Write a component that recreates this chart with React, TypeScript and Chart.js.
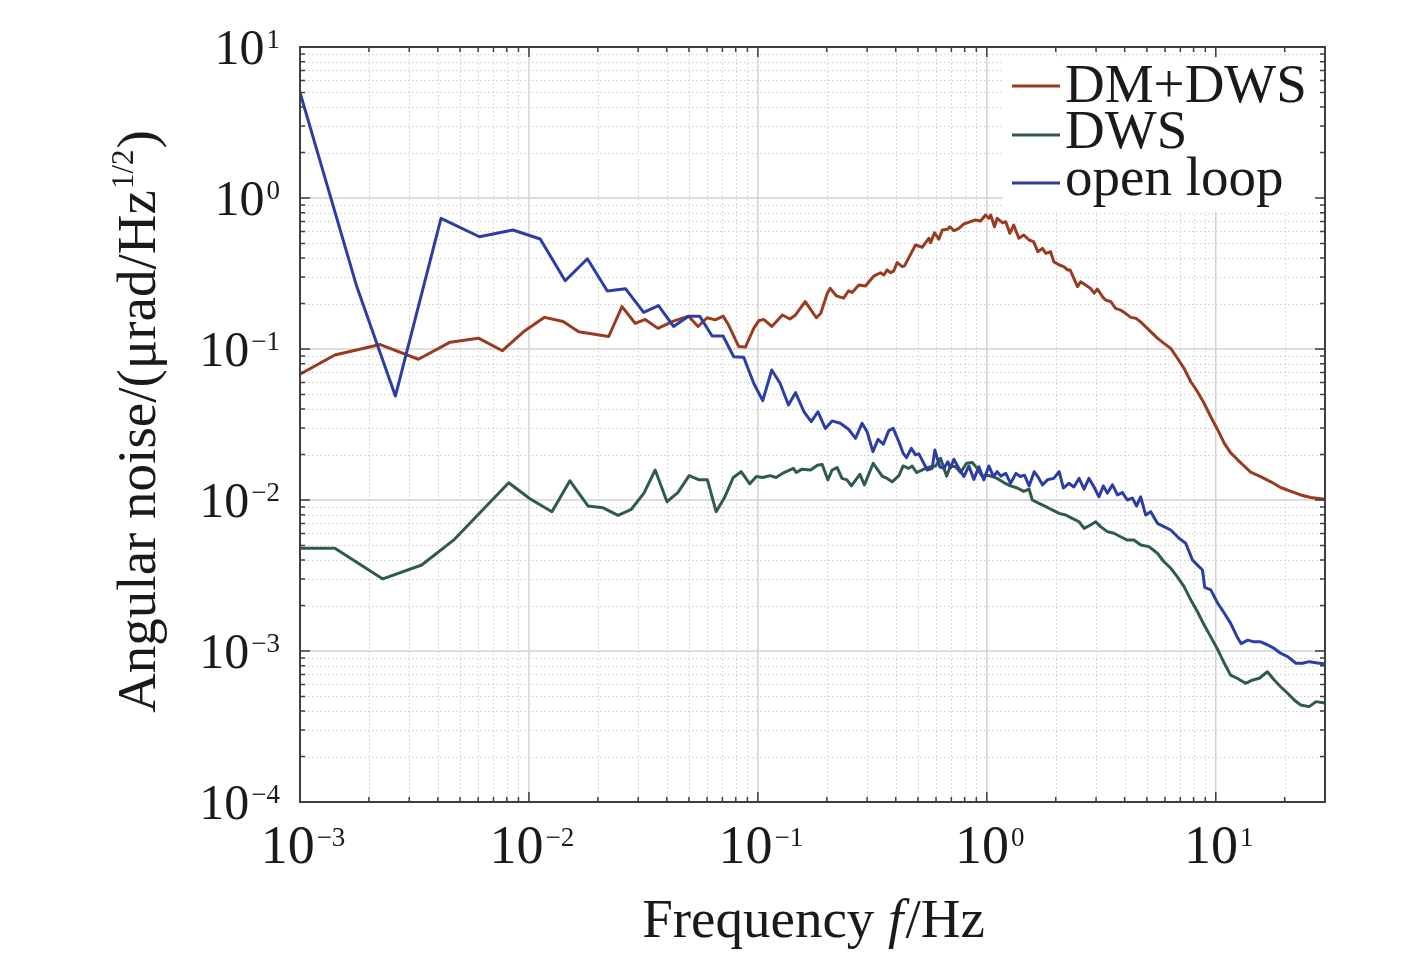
import React, { useEffect, useRef } from "react";
import { Chart, registerables } from "chart.js";

Chart.register(...registerables);

// ---------------- data ----------------
const dmFreq = [
  1e-3, 1.42e-3, 2.24e-3, 3.29e-3, 4.53e-3, 6.02e-3, 7.66e-3, 9.46e-3, 1.17e-2, 1.41e-2,
  1.65e-2, 2.23e-2, 2.55e-2, 2.91e-2, 3.22e-2, 3.66e-2, 4.28e-2, 4.98e-2, 5.48e-2, 6.0e-2,
  6.52e-2, 7.05e-2, 7.45e-2, 8.24e-2, 8.82e-2, 9.59e-2, 0.101, 0.106, 0.115, 0.128,
  0.138, 0.146, 0.161, 0.18, 0.188, 0.201, 0.207, 0.22, 0.237, 0.249,
  0.258, 0.276, 0.295, 0.321, 0.343, 0.355, 0.367, 0.38, 0.392, 0.406,
  0.427, 0.437, 0.488, 0.522, 0.558, 0.568, 0.591, 0.617, 0.639, 0.672,
  0.69, 0.718, 0.755, 0.794, 0.849, 0.893, 0.939, 0.987, 1.02, 1.04,
  1.08, 1.11, 1.17, 1.21, 1.26, 1.31, 1.38, 1.45, 1.53, 1.6,
  1.67, 1.75, 1.81, 1.9, 1.96, 2.07, 2.17, 2.25, 2.31, 2.49,
  2.57, 2.7, 2.84, 2.94, 3.04, 3.2, 3.3, 3.48, 3.65, 3.84,
  4.04, 4.25, 4.47, 4.7, 4.86, 5.29, 5.56, 5.94, 6.36, 6.8,
  7.27, 7.78, 8.32, 8.89, 9.51, 10.2, 10.9, 11.6, 12.4, 13.3,
  14.2, 15.7, 17.4, 19.2, 21.3, 23.5, 26.0, 30,
];
const dmPsd = [
  0.068, 0.0913, 0.107, 0.0855, 0.111, 0.118, 0.0974, 0.13, 0.162, 0.152,
  0.13, 0.121, 0.191, 0.148, 0.157, 0.137, 0.153, 0.165, 0.141, 0.161,
  0.156, 0.165, 0.144, 0.104, 0.103, 0.137, 0.154, 0.157, 0.141, 0.168,
  0.158, 0.168, 0.206, 0.161, 0.172, 0.234, 0.252, 0.225, 0.217, 0.243,
  0.237, 0.265, 0.261, 0.304, 0.32, 0.309, 0.334, 0.32, 0.329, 0.373,
  0.351, 0.355, 0.488, 0.472, 0.541, 0.506, 0.589, 0.533, 0.614, 0.62,
  0.645, 0.607, 0.63, 0.673, 0.697, 0.715, 0.704, 0.772, 0.734, 0.772,
  0.645, 0.734, 0.686, 0.697, 0.584, 0.662, 0.541, 0.569, 0.527, 0.514,
  0.441, 0.464, 0.43, 0.441, 0.379, 0.36, 0.351, 0.334, 0.334, 0.259,
  0.279, 0.265, 0.252, 0.234, 0.249, 0.222, 0.211, 0.206, 0.186, 0.181,
  0.172, 0.162, 0.16, 0.151, 0.144, 0.127, 0.118, 0.109, 0.101, 0.0868,
  0.0745, 0.0607, 0.0522, 0.0437, 0.0356, 0.0291, 0.0237, 0.0206, 0.0186, 0.0168,
  0.0153, 0.0143, 0.0132, 0.0121, 0.0114, 0.0108, 0.0104, 0.0101,
];

const dwsFreq = [
  1e-3, 1.42e-3, 2.3e-3, 3.4e-3, 4.73e-3, 8.16e-3, 1.01e-2, 1.26e-2, 1.51e-2, 1.81e-2,
  2.1e-2, 2.45e-2, 2.8e-2, 3.18e-2, 3.56e-2, 4.01e-2, 4.47e-2, 5.01e-2, 5.54e-2, 6.02e-2,
  6.57e-2, 7.13e-2, 7.81e-2, 8.45e-2, 9.22e-2, 9.85e-2, 0.105, 0.113, 0.12, 0.13,
  0.143, 0.147, 0.156, 0.17, 0.182, 0.191, 0.202, 0.211, 0.222, 0.233,
  0.245, 0.256, 0.279, 0.292, 0.319, 0.349, 0.367, 0.386, 0.413, 0.431,
  0.456, 0.472, 0.493, 0.531, 0.568, 0.597, 0.628, 0.667, 0.694, 0.73,
  0.768, 0.815, 0.864, 0.908, 0.955, 1.0, 1.06, 1.11, 1.19, 1.27,
  1.36, 1.45, 1.53, 1.58, 1.69, 1.81, 1.93, 2.07, 2.21, 2.36,
  2.53, 2.66, 2.84, 2.99, 3.14, 3.36, 3.59, 3.84, 4.11, 4.39,
  4.7, 5.11, 5.56, 5.94, 6.36, 6.8, 7.27, 7.78, 8.32, 8.89,
  9.51, 10.2, 10.9, 11.6, 12.4, 13.5, 14.5, 15.5, 16.8, 18.0,
  19.2, 20.6, 22.0, 23.5, 25.6, 27.4, 30,
];
const dwsPsd = [
  4.79e-3, 4.79e-3, 3.0e-3, 3.71e-3, 5.49e-3, 1.3e-2, 1.02e-2, 8.37e-3, 1.34e-2, 9.13e-3,
  8.89e-3, 7.92e-3, 8.68e-3, 1.11e-2, 1.58e-2, 9.74e-3, 1.12e-2, 1.45e-2, 1.36e-2, 1.36e-2,
  8.37e-3, 1.03e-2, 1.41e-2, 1.54e-2, 1.28e-2, 1.43e-2, 1.41e-2, 1.45e-2, 1.41e-2, 1.52e-2,
  1.62e-2, 1.52e-2, 1.6e-2, 1.58e-2, 1.7e-2, 1.72e-2, 1.36e-2, 1.58e-2, 1.64e-2, 1.39e-2,
  1.36e-2, 1.24e-2, 1.48e-2, 1.26e-2, 1.75e-2, 1.44e-2, 1.39e-2, 1.32e-2, 1.45e-2, 1.68e-2,
  1.62e-2, 1.68e-2, 1.52e-2, 1.6e-2, 1.66e-2, 1.68e-2, 1.89e-2, 1.44e-2, 1.68e-2, 1.66e-2,
  1.52e-2, 1.75e-2, 1.77e-2, 1.62e-2, 1.43e-2, 1.46e-2, 1.43e-2, 1.39e-2, 1.3e-2, 1.24e-2,
  1.2e-2, 1.14e-2, 1.18e-2, 1.0e-2, 9.51e-3, 9.03e-3, 8.59e-3, 8.16e-3, 7.96e-3, 7.56e-3,
  7.18e-3, 6.49e-3, 6.83e-3, 7.18e-3, 6.66e-3, 6.17e-3, 6.02e-3, 5.71e-3, 5.43e-3, 5.43e-3,
  5.04e-3, 4.91e-3, 4.44e-3, 3.9e-3, 3.53e-3, 3.1e-3, 2.67e-3, 2.18e-3, 1.82e-3, 1.49e-3,
  1.24e-3, 1.02e-3, 8.29e-4, 6.93e-4, 6.6e-4, 6.11e-4, 6.43e-4, 6.6e-4, 7.29e-4, 6.43e-4,
  5.8e-4, 5.25e-4, 4.74e-4, 4.39e-4, 4.28e-4, 4.62e-4, 4.53e-4,
];

const olFreq = [
  1e-3, 1.77e-3, 2.61e-3, 4.13e-3, 6.08e-3, 8.51e-3, 1.12e-2, 1.44e-2, 1.8e-2, 2.2e-2,
  2.64e-2, 3.17e-2, 3.68e-2, 4.28e-2, 4.98e-2, 5.57e-2, 6.31e-2, 7.05e-2, 7.84e-2, 8.67e-2,
  9.59e-2, 0.105, 0.115, 0.125, 0.136, 0.146, 0.159, 0.171, 0.183, 0.197,
  0.211, 0.229, 0.249, 0.267, 0.285, 0.3, 0.318, 0.335, 0.353, 0.373,
  0.39, 0.413, 0.431, 0.446, 0.468, 0.488, 0.505, 0.549, 0.577, 0.593,
  0.623, 0.649, 0.676, 0.694, 0.718, 0.755, 0.794, 0.835, 0.878, 0.923,
  0.971, 1.02, 1.07, 1.11, 1.15, 1.21, 1.27, 1.34, 1.4, 1.46,
  1.53, 1.61, 1.67, 1.75, 1.84, 1.96, 2.07, 2.16, 2.28, 2.4,
  2.53, 2.66, 2.79, 2.94, 3.09, 3.23, 3.36, 3.54, 3.72, 3.91,
  4.11, 4.32, 4.51, 4.7, 4.94, 5.2, 5.56, 5.94, 6.36, 6.91,
  7.39, 7.91, 8.45, 8.75, 8.95, 9.51, 10.2, 10.9, 11.6, 12.4,
  12.9, 13.8, 14.7, 15.7, 16.8, 18.0, 19.2, 20.6, 22.4, 23.9,
  25.6, 27.4, 30,
];
const olPsd = [
  5.0, 0.259, 0.0488, 0.734, 0.554, 0.614, 0.535, 0.283, 0.396, 0.242,
  0.251, 0.175, 0.194, 0.141, 0.165, 0.165, 0.122, 0.122, 0.0889, 0.0881,
  0.0593, 0.0455, 0.0726, 0.0593, 0.0426, 0.0514, 0.0384, 0.033, 0.0384, 0.0298,
  0.0334, 0.0322, 0.0294, 0.0256, 0.0322, 0.0283, 0.0209, 0.0252, 0.0234, 0.0288,
  0.0298, 0.0243, 0.0204, 0.0191, 0.022, 0.0199, 0.0202, 0.0158, 0.0162, 0.0214,
  0.0166, 0.0162, 0.0179, 0.0163, 0.0186, 0.0162, 0.0143, 0.0168, 0.0137, 0.0166,
  0.0136, 0.0168, 0.0143, 0.0154, 0.0144, 0.015, 0.0129, 0.015, 0.0143, 0.0146,
  0.0124, 0.0154, 0.0143, 0.0126, 0.0136, 0.0139, 0.0154, 0.012, 0.0129, 0.0122,
  0.0139, 0.0118, 0.0139, 0.0122, 0.0105, 0.0124, 0.0111, 0.0126, 0.0108, 0.0112,
  0.01, 0.0103, 9.13e-3, 0.0105, 7.96e-3, 8.37e-3, 7.01e-3, 6.66e-3, 6.33e-3, 5.58e-3,
  5.17e-3, 4.01e-3, 3.62e-3, 3.44e-3, 2.64e-3, 2.54e-3, 2.07e-3, 1.78e-3, 1.53e-3, 1.24e-3,
  1.12e-3, 1.18e-3, 1.15e-3, 1.15e-3, 1.1e-3, 1.04e-3, 9.66e-4, 9.17e-4, 8.29e-4, 8.29e-4,
  8.5e-4, 8.37e-4, 8.2e-4,
];

const seriesLabels = ["DM+DWS", "DWS", "open loop"];
const seriesColors = ["#9a3a1f", "#2f5c46", "#2c3ea6"];

const xRange = [1e-3, 30];
const yRange = [1e-4, 10];
const xTickExps = [-3, -2, -1, 0, 1];
const yTickExps = [1, 0, -1, -2, -3, -4];

const xTitleParts = ["Frequency ", "f", "/Hz"];
const yTitleParts = ["Angular noise/(\u03bcrad/Hz", "1/2", ")"];

// ---------------- helpers ----------------
const SERIF = '"Liberation Serif", "Times New Roman", Times, serif';
const TEXT = "#1a1a1a";

function expLabel(e: number) {
  return e < 0 ? "\u2212" + String(-e) : String(e);
}

function logTicks(min: number, max: number) {
  const out: { v: number; major: boolean }[] = [];
  const e0 = Math.floor(Math.log10(min));
  const e1 = Math.ceil(Math.log10(max));
  for (let e = e0; e <= e1; e++) {
    for (let m = 1; m <= 9; m++) {
      const v = m * Math.pow(10, e);
      if (v >= min * 0.9999 && v <= max * 1.0001) out.push({ v, major: m === 1 });
    }
  }
  return out;
}

const decorPlugin = {
  id: "decor",
  beforeDatasetsDraw(chart: any) {
    const { ctx, chartArea: a, scales } = chart;
    const xs = scales.x, ys = scales.y;
    const xt = logTicks(xRange[0], xRange[1]);
    const yt = logTicks(yRange[0], yRange[1]);
    ctx.save();
    // minor dotted grid
    ctx.lineWidth = 1;
    ctx.strokeStyle = "#cfcfcf";
    ctx.setLineDash([1.5, 2.5]);
    ctx.beginPath();
    for (const t of xt) {
      if (t.major) continue;
      const p = Math.round(xs.getPixelForValue(t.v)) + 0.5;
      if (p <= a.left + 1 || p >= a.right - 1) continue;
      ctx.moveTo(p, a.top);
      ctx.lineTo(p, a.bottom);
    }
    for (const t of yt) {
      if (t.major) continue;
      const p = Math.round(ys.getPixelForValue(t.v)) + 0.5;
      if (p <= a.top + 1 || p >= a.bottom - 1) continue;
      ctx.moveTo(a.left, p);
      ctx.lineTo(a.right, p);
    }
    ctx.stroke();
    // major solid grid
    ctx.setLineDash([]);
    ctx.strokeStyle = "#d4d4d4";
    ctx.lineWidth = 1.5;
    ctx.beginPath();
    for (const t of xt) {
      if (!t.major) continue;
      const p = xs.getPixelForValue(t.v);
      if (p <= a.left + 1 || p >= a.right - 1) continue;
      ctx.moveTo(p, a.top);
      ctx.lineTo(p, a.bottom);
    }
    for (const t of yt) {
      if (!t.major) continue;
      const p = ys.getPixelForValue(t.v);
      if (p <= a.top + 1 || p >= a.bottom - 1) continue;
      ctx.moveTo(a.left, p);
      ctx.lineTo(a.right, p);
    }
    ctx.stroke();
    ctx.restore();
  },
  afterDatasetsDraw(chart: any) {
    const { ctx, chartArea: a, scales } = chart;
    const xs = scales.x, ys = scales.y;
    ctx.save();

    // legend box
    ctx.fillStyle = "#ffffff";
    ctx.fillRect(1003, 58, a.right - 3 - 1003, 212 - 58);
    const legendRows = [
      { lineY: 86, base: 102 },
      { lineY: 135, base: 148 },
      { lineY: 183, base: 195 },
    ];
    ctx.font = `55px ${SERIF}`;
    ctx.textBaseline = "alphabetic";
    ctx.textAlign = "left";
    legendRows.forEach((r, i) => {
      ctx.strokeStyle = seriesColors[i];
      ctx.lineWidth = 3;
      ctx.beginPath();
      ctx.moveTo(1012, r.lineY);
      ctx.lineTo(1060, r.lineY);
      ctx.stroke();
      ctx.fillStyle = TEXT;
      ctx.fillText(seriesLabels[i], 1065, r.base);
    });

    // frame
    ctx.strokeStyle = "#3f3f3f";
    ctx.lineWidth = 2;
    ctx.strokeRect(a.left, a.top, a.right - a.left, a.bottom - a.top);

    // inward ticks
    ctx.lineWidth = 1.5;
    ctx.beginPath();
    for (const t of logTicks(xRange[0], xRange[1])) {
      const p = xs.getPixelForValue(t.v);
      if (p <= a.left + 1 || p >= a.right - 1) continue;
      const len = t.major ? 10 : 5;
      ctx.moveTo(p, a.bottom);
      ctx.lineTo(p, a.bottom - len);
      ctx.moveTo(p, a.top);
      ctx.lineTo(p, a.top + len);
    }
    for (const t of logTicks(yRange[0], yRange[1])) {
      const p = ys.getPixelForValue(t.v);
      if (p <= a.top + 1 || p >= a.bottom - 1) continue;
      const len = t.major ? 10 : 5;
      ctx.moveTo(a.left, p);
      ctx.lineTo(a.left + len, p);
      ctx.moveTo(a.right, p);
      ctx.lineTo(a.right - len, p);
    }
    ctx.stroke();

    // tick labels
    ctx.fillStyle = TEXT;
    ctx.textAlign = "left";
    ctx.textBaseline = "alphabetic";
    // x
    for (const e of xTickExps) {
      const px = xs.getPixelForValue(Math.pow(10, e));
      ctx.font = `54px ${SERIF}`;
      const wb = ctx.measureText("10").width;
      ctx.font = `27px ${SERIF}`;
      const se = expLabel(e);
      const we = ctx.measureText(se).width;
      const x0 = px - (wb + we) / 2 + 2;
      ctx.font = `54px ${SERIF}`;
      ctx.fillText("10", x0, a.bottom + 61);
      ctx.font = `27px ${SERIF}`;
      ctx.fillText(se, x0 + wb + 2, a.bottom + 44);
    }
    // y
    for (const e of yTickExps) {
      const py = ys.getPixelForValue(Math.pow(10, e));
      ctx.font = `27px ${SERIF}`;
      const se = expLabel(e);
      const we = ctx.measureText(se).width;
      ctx.font = `50px ${SERIF}`;
      const wb = ctx.measureText("10").width;
      const right = a.left - 20;
      const x0 = right - we - 2 - wb;
      ctx.fillText("10", x0, py + 17);
      ctx.font = `27px ${SERIF}`;
      ctx.fillText(se, right - we, py + 1);
    }

    // x title
    {
      const cx = (a.left + a.right) / 2;
      const base = 937;
      ctx.font = `55px ${SERIF}`;
      const w1 = ctx.measureText(xTitleParts[0]).width;
      const w3 = ctx.measureText(xTitleParts[2]).width;
      ctx.font = `italic 55px ${SERIF}`;
      const w2 = ctx.measureText(xTitleParts[1]).width;
      let x0 = cx - (w1 + w2 + w3) / 2;
      ctx.font = `55px ${SERIF}`;
      ctx.fillText(xTitleParts[0], x0, base);
      x0 += w1;
      ctx.font = `italic 55px ${SERIF}`;
      ctx.fillText(xTitleParts[1], x0, base);
      x0 += w2 + 2;
      ctx.font = `55px ${SERIF}`;
      ctx.fillText(xTitleParts[2], x0, base);
    }

    // y title (rotated)
    {
      const cy = (a.top + a.bottom) / 2 - 2;
      ctx.save();
      ctx.translate(155, cy);
      ctx.rotate(-Math.PI / 2);
      ctx.font = `55px ${SERIF}`;
      const w1 = ctx.measureText(yTitleParts[0]).width;
      const w3 = ctx.measureText(yTitleParts[2]).width;
      ctx.font = `31px ${SERIF}`;
      const w2 = ctx.measureText(yTitleParts[1]).width;
      let x0 = -(w1 + w2 + w3) / 2;
      ctx.font = `55px ${SERIF}`;
      ctx.fillText(yTitleParts[0], x0, 0);
      x0 += w1 + 1;
      ctx.font = `31px ${SERIF}`;
      ctx.fillText(yTitleParts[1], x0, -22);
      x0 += w2 + 1;
      ctx.font = `55px ${SERIF}`;
      ctx.fillText(yTitleParts[2], x0, 0);
      ctx.restore();
    }

    ctx.restore();
  },
};

function toPoints(fs: number[], vs: number[]) {
  return fs.map((f, i) => ({ x: f, y: vs[i] }));
}

export default function App() {
  const ref = useRef<HTMLCanvasElement | null>(null);

  useEffect(() => {
    if (!ref.current) return;
    const common = {
      pointRadius: 0,
      pointHoverRadius: 0,
      borderWidth: 3,
      tension: 0,
      fill: false,
      borderJoinStyle: "round" as const,
    };
    const chart = new Chart(ref.current, {
      type: "line",
      data: {
        datasets: [
          { ...common, label: seriesLabels[0], data: toPoints(dmFreq, dmPsd), borderColor: seriesColors[0], order: 2 },
          { ...common, label: seriesLabels[1], data: toPoints(dwsFreq, dwsPsd), borderColor: seriesColors[1], order: 1 },
          { ...common, label: seriesLabels[2], data: toPoints(olFreq, olPsd), borderColor: seriesColors[2], order: 0 },
        ],
      },
      options: {
        animation: false,
        responsive: false,
        devicePixelRatio: 1,
        events: [],
        layout: { padding: { left: 0, top: 47, right: 92, bottom: 0 } },
        plugins: {
          legend: { display: false },
          tooltip: { enabled: false },
          title: { display: false },
        },
        scales: {
          x: {
            type: "logarithmic",
            min: xRange[0],
            max: xRange[1],
            grid: { display: false },
            border: { display: false },
            ticks: { display: false },
            afterFit: (s: any) => {
              s.height = 151;
            },
          },
          y: {
            type: "logarithmic",
            min: yRange[0],
            max: yRange[1],
            grid: { display: false },
            border: { display: false },
            ticks: { display: false },
            afterFit: (s: any) => {
              s.width = 300;
            },
          },
        },
      } as any,
      plugins: [decorPlugin],
    });
    return () => chart.destroy();
  }, []);

  return (
    <div style={{ position: "absolute", left: 0, top: 0, width: 1417, height: 953, background: "#fff" }}>
      <canvas ref={ref} width={1417} height={953} style={{ display: "block", width: 1417, height: 953 }} />
    </div>
  );
}
